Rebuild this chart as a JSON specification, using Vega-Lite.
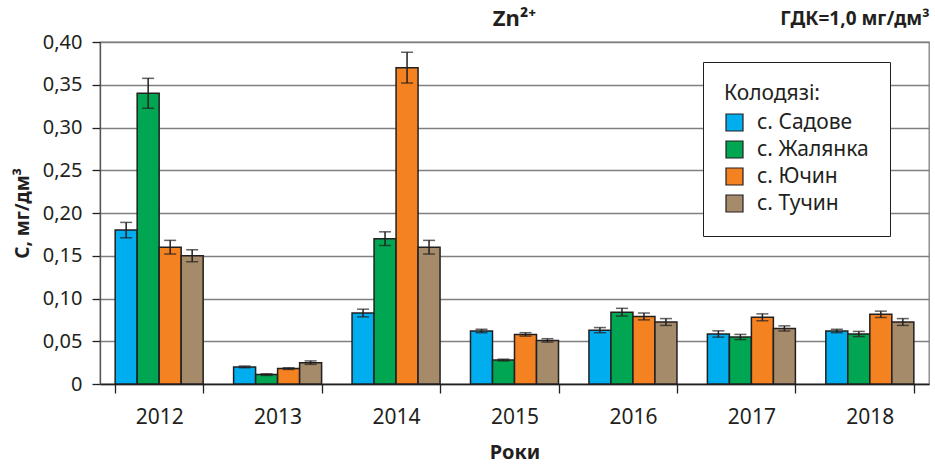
{
  "$schema": "https://vega.github.io/schema/vega-lite/v6.json",
  "width": 829,
  "height": 342,
  "autosize": {"type": "none"},
  "padding": {"left": 100, "top": 42, "right": 6, "bottom": 80},
  "background": "white",
  "config": {
    "font": "Noto Sans",
    "view": {"stroke": "#7f7f7f", "strokeWidth": 1.3}
  },
  "title": {
    "text": "Zn²⁺",
    "anchor": "middle",
    "fontSize": 22,
    "fontWeight": "bold",
    "font": "Noto Sans",
    "color": "#231f20",
    "offset": -22
  },
  "data": {
    "values": [
      {"year": "2012", "well": "с. Садове", "value": 0.18, "lo": 0.171, "hi": 0.189},
      {"year": "2012", "well": "с. Жалянка", "value": 0.34, "lo": 0.3225, "hi": 0.3575},
      {"year": "2012", "well": "с. Ючин", "value": 0.16, "lo": 0.152, "hi": 0.168},
      {"year": "2012", "well": "с. Тучин", "value": 0.15, "lo": 0.143, "hi": 0.157},
      {"year": "2013", "well": "с. Садове", "value": 0.02, "lo": 0.019, "hi": 0.021},
      {"year": "2013", "well": "с. Жалянка", "value": 0.011, "lo": 0.010, "hi": 0.012},
      {"year": "2013", "well": "с. Ючин", "value": 0.018, "lo": 0.017, "hi": 0.019},
      {"year": "2013", "well": "с. Тучин", "value": 0.025, "lo": 0.023, "hi": 0.027},
      {"year": "2014", "well": "с. Садове", "value": 0.083, "lo": 0.0785, "hi": 0.0875},
      {"year": "2014", "well": "с. Жалянка", "value": 0.17, "lo": 0.162, "hi": 0.178},
      {"year": "2014", "well": "с. Ючин", "value": 0.37, "lo": 0.352, "hi": 0.388},
      {"year": "2014", "well": "с. Тучин", "value": 0.16, "lo": 0.152, "hi": 0.168},
      {"year": "2015", "well": "с. Садове", "value": 0.062, "lo": 0.060, "hi": 0.064},
      {"year": "2015", "well": "с. Жалянка", "value": 0.028, "lo": 0.027, "hi": 0.029},
      {"year": "2015", "well": "с. Ючин", "value": 0.058, "lo": 0.056, "hi": 0.060},
      {"year": "2015", "well": "с. Тучин", "value": 0.051, "lo": 0.049, "hi": 0.053},
      {"year": "2016", "well": "с. Садове", "value": 0.063, "lo": 0.060, "hi": 0.066},
      {"year": "2016", "well": "с. Жалянка", "value": 0.084, "lo": 0.0795, "hi": 0.0885},
      {"year": "2016", "well": "с. Ючин", "value": 0.079, "lo": 0.075, "hi": 0.083},
      {"year": "2016", "well": "с. Тучин", "value": 0.0725, "lo": 0.0685, "hi": 0.0765},
      {"year": "2017", "well": "с. Садове", "value": 0.0585, "lo": 0.0548, "hi": 0.0622},
      {"year": "2017", "well": "с. Жалянка", "value": 0.055, "lo": 0.052, "hi": 0.058},
      {"year": "2017", "well": "с. Ючин", "value": 0.078, "lo": 0.074, "hi": 0.082},
      {"year": "2017", "well": "с. Тучин", "value": 0.065, "lo": 0.062, "hi": 0.068},
      {"year": "2018", "well": "с. Садове", "value": 0.062, "lo": 0.060, "hi": 0.064},
      {"year": "2018", "well": "с. Жалянка", "value": 0.0585, "lo": 0.0555, "hi": 0.0615},
      {"year": "2018", "well": "с. Ючин", "value": 0.0815, "lo": 0.0778, "hi": 0.0852},
      {"year": "2018", "well": "с. Тучин", "value": 0.0725, "lo": 0.0685, "hi": 0.0765}
    ]
  },
  "resolve": {"axis": {"x": "independent"}},
  "layer": [
    {
      "mark": {"type": "bar", "stroke": "#231f20", "strokeWidth": 1.5},
      "encoding": {
        "x": {
          "field": "year", "type": "nominal",
          "scale": {"paddingInner": 0.257, "paddingOuter": 0.128},
          "axis": {
            "title": "Роки", "titleFontSize": 20, "titleFontWeight": "bold", "titleColor": "#231f20",
            "titlePadding": 15,
            "labelAngle": 0, "labelFontSize": 21, "labelColor": "#231f20", "labelPadding": 13,
            "tickBand": "extent", "tickSize": 9, "tickColor": "#231f20", "tickWidth": 1.3,
            "domainColor": "#231f20", "domainWidth": 1.3
          }
        },
        "xOffset": {"field": "well", "type": "nominal", "sort": ["с. Садове", "с. Жалянка", "с. Ючин", "с. Тучин"], "scale": {"paddingInner": 0}},
        "y": {
          "field": "value", "type": "quantitative",
          "scale": {"domain": [0, 0.4], "nice": false},
          "axis": {
            "values": [0, 0.05, 0.1, 0.15, 0.2, 0.25, 0.3, 0.35, 0.4],
            "labelExpr": "datum.value == 0 ? '0' : replace(format(datum.value, '.2f'), '.', ',')",
            "title": "C, мг/дм³", "titleFontSize": 19, "titleFontWeight": "bold", "titleColor": "#231f20",
            "titlePadding": 10,
            "labelFontSize": 20, "labelColor": "#231f20", "labelPadding": 10,
            "tickSize": 8, "tickColor": "#231f20", "tickWidth": 1.3,
            "domainColor": "#555555", "domainWidth": 1.3,
            "grid": true, "gridColor": "#7f7f7f", "gridWidth": 1.3
          }
        },
        "color": {
          "field": "well", "type": "nominal",
          "sort": ["с. Садове", "с. Жалянка", "с. Ючин", "с. Тучин"],
          "scale": {"domain": ["с. Садове", "с. Жалянка", "с. Ючин", "с. Тучин"], "range": ["#00aeef", "#00a651", "#f58220", "#a68b6a"]},
          "legend": {
            "title": "Колодязі:", "titleFontSize": 21, "titleFontWeight": "normal", "titleColor": "#231f20",
            "titlePadding": 8,
            "labelFontSize": 21, "labelColor": "#231f20", "labelOffset": 12,
            "symbolType": "square", "symbolSize": 289, "symbolStrokeColor": "#231f20", "symbolStrokeWidth": 1.2,
            "rowPadding": 4,
            "orient": "none", "legendX": 603, "legendY": 20,
            "padding": 21, "strokeColor": "#231f20", "fillColor": "white"
          }
        }
      }
    },
    {
      "mark": {"type": "rule", "color": "#231f20", "strokeWidth": 1.5},
      "encoding": {
        "x": {
          "field": "year", "type": "nominal",
          "axis": {"orient": "top", "domain": false, "ticks": false, "labels": false, "grid": false,
                   "title": "ГДК=1,0 мг/дм³", "titleAnchor": "end", "titleFontSize": 19, "titleFontWeight": "bold",
                   "titleColor": "#231f20", "titlePadding": 14}
        },
        "xOffset": {"field": "well", "type": "nominal", "sort": ["с. Садове", "с. Жалянка", "с. Ючин", "с. Тучин"]},
        "y": {"field": "lo", "type": "quantitative"},
        "y2": {"field": "hi"}
      }
    },
    {
      "mark": {"type": "tick", "color": "#231f20", "thickness": 1.5, "size": 12},
      "encoding": {
        "x": {"field": "year", "type": "nominal", "axis": null},
        "xOffset": {"field": "well", "type": "nominal", "sort": ["с. Садове", "с. Жалянка", "с. Ючин", "с. Тучин"]},
        "y": {"field": "lo", "type": "quantitative"}
      }
    },
    {
      "mark": {"type": "tick", "color": "#231f20", "thickness": 1.5, "size": 12},
      "encoding": {
        "x": {"field": "year", "type": "nominal", "axis": null},
        "xOffset": {"field": "well", "type": "nominal", "sort": ["с. Садове", "с. Жалянка", "с. Ючин", "с. Тучин"]},
        "y": {"field": "hi", "type": "quantitative"}
      }
    }
  ]
}
